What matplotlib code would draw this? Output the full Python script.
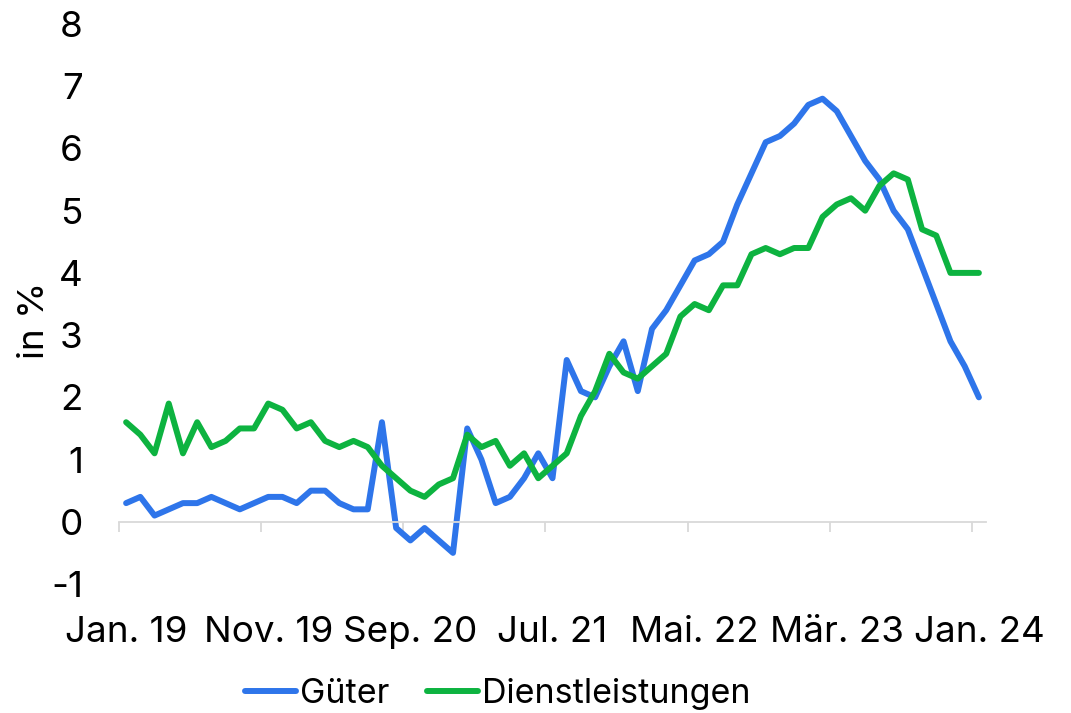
import matplotlib
matplotlib.use("Agg")
import matplotlib.pyplot as plt
import numpy as np

tick_labels = ["Jan. 19", "Nov. 19", "Sep. 20", "Jul. 21", "Mai. 22", "Mär. 23", "Jan. 24"]

gueter = [0.3, 0.4, 0.1, 0.2, 0.3, 0.3, 0.4, 0.3, 0.2, 0.3,
          0.4, 0.4, 0.3, 0.5, 0.5, 0.3, 0.2, 0.2, 1.6, -0.1,
          -0.3, -0.1, -0.3, -0.5, 1.5, 1.0, 0.3, 0.4, 0.7, 1.1,
          0.7, 2.6, 2.1, 2.0, 2.5, 2.9, 2.1, 3.1, 3.4, 3.8,
          4.2, 4.3, 4.5, 5.1, 5.6, 6.1, 6.2, 6.4, 6.7, 6.8,
          6.6, 6.2, 5.8, 5.5, 5.0, 4.7, 4.1, 3.5, 2.9, 2.5,
          2.0]

dienst = [1.6, 1.4, 1.1, 1.9, 1.1, 1.6, 1.2, 1.3, 1.5, 1.5,
          1.9, 1.8, 1.5, 1.6, 1.3, 1.2, 1.3, 1.2, 0.9, 0.7,
          0.5, 0.4, 0.6, 0.7, 1.4, 1.2, 1.3, 0.9, 1.1, 0.7,
          0.9, 1.1, 1.7, 2.1, 2.7, 2.4, 2.3, 2.5, 2.7, 3.3,
          3.5, 3.4, 3.8, 3.8, 4.3, 4.4, 4.3, 4.4, 4.4, 4.9,
          5.1, 5.2, 5.0, 5.4, 5.6, 5.5, 4.7, 4.6, 4.0, 4.0,
          4.0]

plt.rcParams['font.family'] = ['Inter', 'DejaVu Sans']

fig = plt.figure(figsize=(10.71, 7.13), dpi=100)
ax = fig.add_axes([119/1071, 1-584/713, (986-119)/1071, (584-24)/713])

x = np.arange(len(gueter))
blue = '#2E75EA'
green = '#0DB340'
ax.plot(x, gueter, color=blue, lw=4.3, solid_joinstyle='round', solid_capstyle='round', label='Güter')
ax.plot(x, dienst, color=green, lw=4.3, solid_joinstyle='round', solid_capstyle='round', label='Dienstleistungen')

ax.set_xlim(-0.5, len(gueter) - 0.5)
ax.set_ylim(-1, 8)
ax.set_yticks(range(-1, 9))
ax.set_yticklabels([str(v) for v in range(-1, 9)])

# x tick labels at category centers every 10 months
ax.set_xticks(np.arange(0, len(gueter), 10))
ax.set_xticklabels(tick_labels)
ax.set_xticks(np.arange(-0.5, len(gueter) - 1, 10), minor=True)
ax.tick_params(axis='x', which='major', length=0, pad=68, labelsize=26.5)
ax.tick_params(axis='x', which='minor', length=7, width=1.3, color='#D9D9D9', direction='out')
ax.tick_params(axis='y', length=0, pad=26, labelsize=26.5)

for s in ['top', 'right', 'left']:
    ax.spines[s].set_visible(False)
ax.spines['bottom'].set_position(('data', 0))
ax.spines['bottom'].set_color('#D9D9D9')
ax.spines['bottom'].set_linewidth(1.3)

fig.text(35/1071, 1-320/713, 'in %', rotation=90, fontsize=26.5, ha='center', va='center')

leg = fig.legend(loc='center', bbox_to_anchor=(498/1071, 1-694/713), ncol=2, frameon=False,
                 fontsize=24.5, handlelength=1.5, handletextpad=0.12, columnspacing=1.1)

fig.savefig('out.png', dpi=100)
